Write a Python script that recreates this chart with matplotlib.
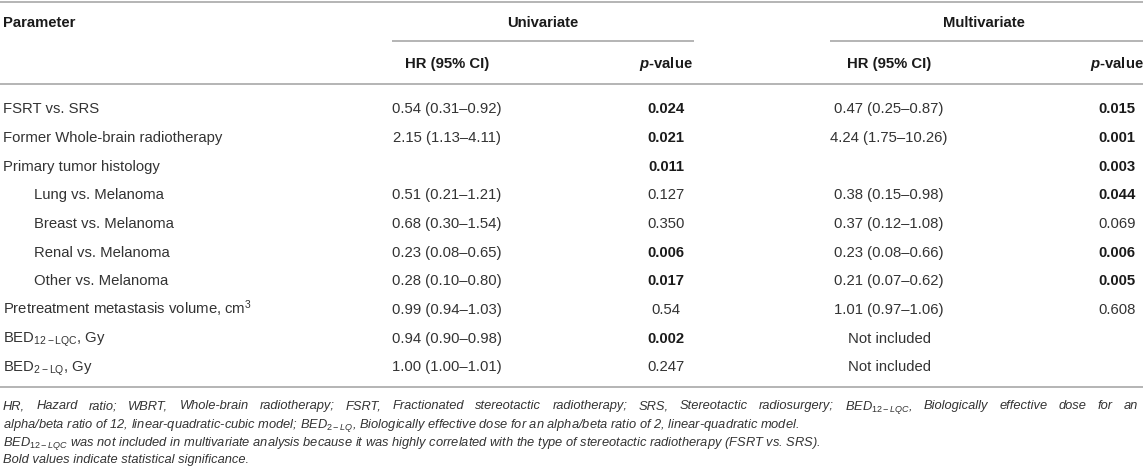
import matplotlib
matplotlib.use("Agg")
import matplotlib.pyplot as plt

plt.rcParams['font.family'] = ['Liberation Sans', 'DejaVu Sans']
plt.rcParams['mathtext.fontset'] = 'custom'
plt.rcParams['mathtext.rm'] = 'Liberation Sans'
plt.rcParams['mathtext.it'] = 'Liberation Sans:italic'
plt.rcParams['mathtext.bf'] = 'Liberation Sans:bold'
plt.rcParams['mathtext.sf'] = 'Liberation Sans:bold:italic'

# table content
params = ["FSRT vs. SRS",
          "Former Whole-brain radiotherapy",
          "Primary tumor histology",
          "Lung vs. Melanoma",
          "Breast vs. Melanoma",
          "Renal vs. Melanoma",
          "Other vs. Melanoma",
          r"Pretreatment metastasis volume, cm$^{\mathregular{3}}$",
          r"$\mathregular{BED}_{\mathregular{12-LQC}}$, Gy",
          r"$\mathregular{BED}_{\mathregular{2-LQ}}$, Gy"]
indent = [0, 0, 0, 1, 1, 1, 1, 0, 0, 0]
uni_hr = ["0.54 (0.31–0.92)", "2.15 (1.13–4.11)", "", "0.51 (0.21–1.21)",
          "0.68 (0.30–1.54)", "0.23 (0.08–0.65)", "0.28 (0.10–0.80)",
          "0.99 (0.94–1.03)", "0.94 (0.90–0.98)", "1.00 (1.00–1.01)"]
uni_p = ["0.024", "0.021", "0.011", "0.127", "0.350", "0.006", "0.017",
         "0.54", "0.002", "0.247"]
multi_hr = ["0.47 (0.25–0.87)", "4.24 (1.75–10.26)", "", "0.38 (0.15–0.98)",
            "0.37 (0.12–1.08)", "0.23 (0.08–0.66)", "0.21 (0.07–0.62)",
            "1.01 (0.97–1.06)", "Not included", "Not included"]
multi_p = ["0.015", "0.001", "0.003", "0.044", "0.069", "0.006", "0.005",
           "0.608", "", ""]

footnotes = [
    r"HR, Hazard ratio; WBRT, Whole-brain radiotherapy; FSRT, Fractionated stereotactic radiotherapy; "
    r"SRS, Stereotactic radiosurgery; $\mathit{BED}_{\mathit{12-LQC}}$, Biologically effective dose for an",
    r"alpha/beta ratio of 12, linear-quadratic-cubic model; $\mathit{BED}_{\mathit{2-LQ}}$, "
    r"Biologically effective dose for an alpha/beta ratio of 2, linear-quadratic model.",
    r"$\mathit{BED}_{\mathit{12-LQC}}$ was not included in multivariate analysis because it was highly "
    r"correlated with the type of stereotactic radiotherapy (FSRT vs. SRS).",
    "Bold values indicate statistical significance.",
]

W, H = 1143, 477
fig = plt.figure(figsize=(W / 100, H / 100), dpi=100)
ax = fig.add_axes([0, 0, 1, 1])
ax.set_xlim(0, W)
ax.set_ylim(H, 0)
ax.axis('off')

fs = 10.7
fs_note = 9.3
txt = '#333333'
dark = '#1a1a1a'
rule = '#b4b4b4'

x_par, x_ind = 3, 34
x_uhr, x_up, x_mhr, x_mp = 447, 666, 889, 1117
row0, dy = 108, 28.7

# rules
for y, x0, x1 in [(3, 0, W), (42, 392, 694), (42, 830, W), (85, 0, W), (388, 0, W)]:
    ax.plot([x0, x1], [y, y], color=rule, lw=1.4, solid_capstyle='butt')

# header
hb = 5.2
ax.text(x_par, 22 + hb, "Parameter", fontsize=fs, fontweight='bold', color=dark, va='baseline')
ax.text(543, 22 + hb, "Univariate", fontsize=fs, fontweight='bold', color=dark, va='baseline', ha='center')
ax.text(984, 22 + hb, "Multivariate", fontsize=fs, fontweight='bold', color=dark, va='baseline', ha='center')
for x, s in [(x_uhr, "HR (95% CI)"), (x_up, r"$\mathsf{p}$-value"),
             (x_mhr, "HR (95% CI)"), (x_mp, r"$\mathsf{p}$-value")]:
    ax.text(x, 63 + hb, s, fontsize=fs, fontweight='bold', color=dark, va='baseline', ha='center')

# body
for i in range(len(params)):
    yb = row0 + i * dy + hb
    ax.text(x_ind if indent[i] else x_par, yb, params[i], fontsize=fs, color=txt, va='baseline')
    ax.text(x_uhr, yb, uni_hr[i], fontsize=fs, color=txt, va='baseline', ha='center')
    ax.text(x_mhr, yb, multi_hr[i], fontsize=fs, color=txt, va='baseline', ha='center')
    for x, p in [(x_up, uni_p[i]), (x_mp, multi_p[i])]:
        if p:
            sig = float(p) < 0.05
            ax.text(x, yb, p, fontsize=fs, va='baseline', ha='center',
                    fontweight='bold' if sig else 'normal', color=dark if sig else txt)

# footnotes
note_y = [405, 423, 441, 459]
nb = 4.5
for k, s in enumerate(footnotes):
    if k == 0:
        # justified first line
        words = s.split(' ')
        ts = [ax.text(0, note_y[k] + nb, w, fontsize=fs_note, style='italic',
                      color=txt, va='baseline') for w in words]
        fig.canvas.draw()
        r = fig.canvas.get_renderer()
        widths = [t.get_window_extent(r).width for t in ts]
        gap = (1138 - 3 - sum(widths)) / (len(words) - 1)
        x = 3
        for t, w in zip(ts, widths):
            t.set_x(x)
            x += w + gap
    else:
        ax.text(3, note_y[k] + nb, s, fontsize=fs_note, style='italic', color=txt, va='baseline')

fig.savefig('out.png', dpi=100)
